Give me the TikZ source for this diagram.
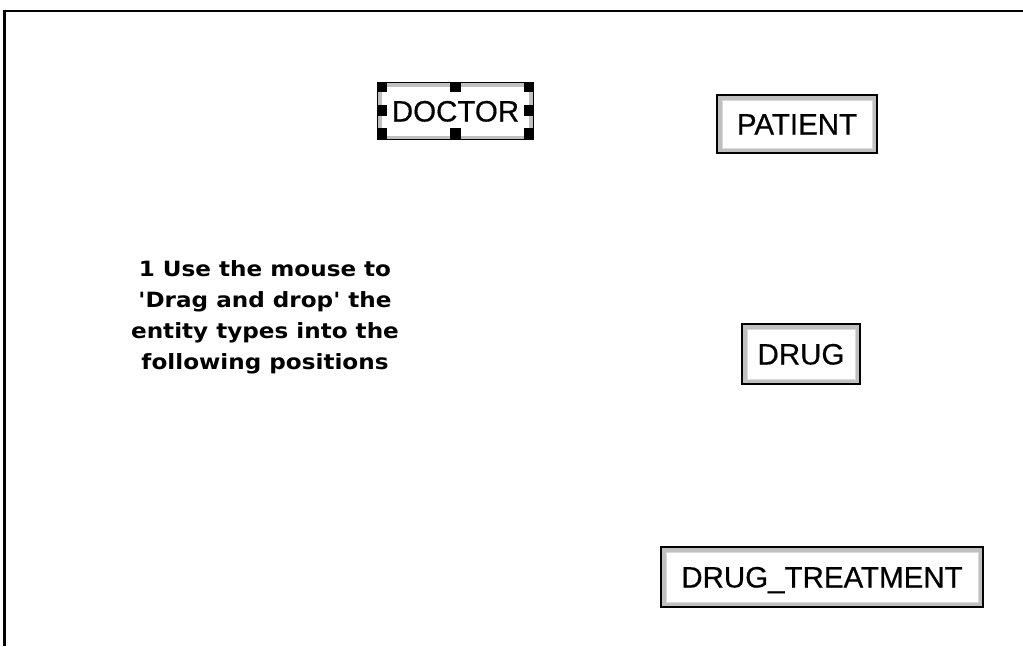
\documentclass[tikz,border=0pt]{standalone}
\usepackage{fontspec}
\usetikzlibrary{calc}
\setmainfont{Liberation Sans}[FakeBold=0.5]
\newfontfamily\instrfont{DejaVu Sans Bold}[FakeStretch=1.1]
\definecolor{bandgray}{HTML}{C0C0C0}
\tikzset{
  entity/.style={draw=black, line width=1.6pt, fill=bandgray, inner sep=0pt,
    font=\fontsize{29.5}{30}\selectfont, text height=21pt, text depth=0pt,
    path picture={\fill[white] ([shift={(5pt,5pt)}]path picture bounding box.south west)
      rectangle ([shift={(-5pt,-5pt)}]path picture bounding box.north east);
      \draw[white!85!black, line width=0.8pt] ([shift={(5pt,5pt)}]path picture bounding box.south west)
      rectangle ([shift={(-5pt,-5pt)}]path picture bounding box.north east);}},
  selbox/.style={draw=black, line width=1.4pt, fill=bandgray, inner sep=0pt,
    font=\fontsize{29.5}{30}\selectfont, text height=21pt, text depth=0pt,
    path picture={\fill[white] ([shift={(4.5pt,4pt)}]path picture bounding box.south west)
      rectangle ([shift={(-4.5pt,-4pt)}]path picture bounding box.north east);}},
  handle/.style={fill=black},
  frameline/.style={draw=black, line width=2.2pt},
  instr/.style={align=center, inner sep=0pt, font=\instrfont\fontsize{21}{31}\selectfont}
}
\begin{document}
\begin{tikzpicture}[x=1pt, y=-1pt]
\useasboundingbox (0,0) rectangle (1023,646);
% frame
\coordinate (fl) at (4.5,646);
\coordinate (ftl) at (4.5,11);
\coordinate (ftr) at (1023,11);
\draw[frameline] (fl) -- (ftl) -- (ftr);
% DOCTOR (selected)
\node[selbox, minimum width=156pt, minimum height=57pt] (doctor) at (455.5,111) {DOCTOR};
% selection handles, inside the box edges
\foreach \hx in {0,0.5,1}{
  \foreach \hy in {0,0.5,1}{
    \ifdim \hx pt=0.5pt \ifdim \hy pt=0.5pt \else
      \fill[handle] ($(doctor.north west)!\hx!(doctor.north east) + (0,\hy*57) + (-\hx*10.5,-\hy*10.5)$) rectangle ++(10.5,10.5);
    \fi \else
      \fill[handle] ($(doctor.north west)!\hx!(doctor.north east) + (0,\hy*57) + (-\hx*10.5,-\hy*10.5)$) rectangle ++(10.5,10.5);
    \fi
  }
}
% PATIENT
\node[entity, minimum width=160pt, minimum height=58pt] (patient) at (797,124) {PATIENT};
% DRUG
\node[entity, minimum width=118pt, minimum height=60pt] (drug) at (801,354) {DRUG};
% DRUG_TREATMENT
\node[entity, minimum width=322pt, minimum height=60pt] (treatment) at (822,577) {DRUG\_TREATMENT};
% instruction
\node[instr] (instr) at (265,317) {1 Use the mouse to\\'Drag and drop' the\\entity types into the\\following positions};
\end{tikzpicture}
\end{document}
